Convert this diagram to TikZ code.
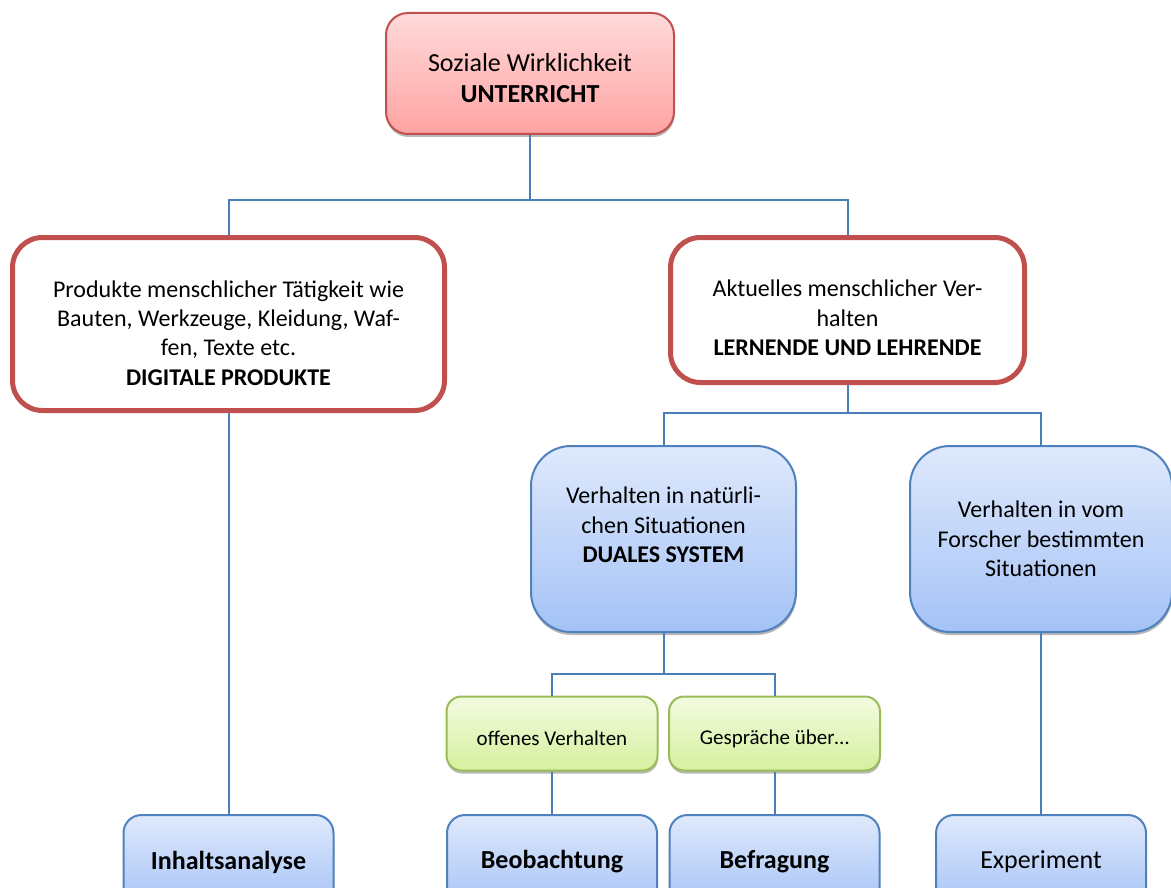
\documentclass[tikz,border=0pt]{standalone}
\usepackage{fontspec}
\setmainfont{Carlito}
\usetikzlibrary{shadows}

\definecolor{linkblue}{HTML}{4A7EBB}
\definecolor{redline}{HTML}{C0504D}
\definecolor{redtop}{HTML}{FFDADA}
\definecolor{redbot}{HTML}{FFA3A3}
\definecolor{blueline}{HTML}{4F81BD}
\definecolor{bluetop}{HTML}{DFE9FC}
\definecolor{bluebot}{HTML}{A4C2F6}
\definecolor{greenline}{HTML}{9BBB59}
\definecolor{greentop}{HTML}{F3FBE0}
\definecolor{greenbot}{HTML}{D5F09E}

\tikzset{
  softshadow/.style={drop shadow={shadow xshift=0.5pt, shadow yshift=-3pt, opacity=0.28, fill=black}},
  link/.style={draw=linkblue, line width=2pt},
  redhead/.style={draw=redline, line width=2pt, top color=redtop, bottom color=redbot,
    rounded corners=22pt, softshadow, inner sep=0pt},
  redframe/.style={draw=redline, line width=5pt, fill=white, rounded corners=30pt, inner sep=0pt},
  bluebox/.style={draw=blueline, line width=2pt, top color=bluetop, bottom color=bluebot,
    rounded corners=#1, softshadow, inner sep=0pt},
  bluebox/.default=40pt,
  greenbox/.style={draw=greenline, line width=2pt, top color=greentop, bottom color=greenbot,
    rounded corners=15pt, softshadow, inner sep=0pt},
  methodbox/.style={bluebox=18pt, minimum width=210pt, minimum height=94pt,
    font=\fontsize{26}{31}\selectfont},
  big/.style={align=center, inner sep=0pt, font=\fontsize{26}{31}\selectfont},
  body/.style={align=center, inner sep=0pt, font=\fontsize{24}{29.3}\selectfont},
  small/.style={align=center, inner sep=0pt, font=\fontsize{21}{25}\selectfont},
}

\begin{document}
\begin{tikzpicture}[x=1pt, y=-1pt]
  \useasboundingbox (0,0) rectangle (1171,888);

  % hierarchy boxes
  \node[redhead, minimum width=288pt, minimum height=121pt] (top) at (530,73.5) {};
  \node[big] (toptext) at ([yshift=-5pt]top.center)
    {Soziale Wirklichkeit\\\textbf{UNTERRICHT}};

  \node[redframe, minimum width=432pt, minimum height=173pt] (prod) at (228.5,324) {};
  \node[body] (prodtext) at ([yshift=-9pt]prod.center)
    {Produkte menschlicher Tätigkeit wie\\Bauten, Werkzeuge, Kleidung, Waf-\\fen, Texte etc.\\\textbf{DIGITALE PRODUKTE}};

  \node[redframe, minimum width=354pt, minimum height=145pt] (verh) at (847.5,310) {};
  \node[body] (verhtext) at ([yshift=-8pt]verh.center)
    {Aktuelles menschlicher Ver-\\halten\\\textbf{LERNENDE UND LEHRENDE}};

  \node[bluebox, minimum width=265pt, minimum height=186pt] (nat) at (663.5,539) {};
  \node[body] (nattext) at ([yshift=14pt]nat.center)
    {Verhalten in natürli-\\chen Situationen\\\textbf{DUALES SYSTEM}};

  \node[bluebox, minimum width=262pt, minimum height=186pt] (forsch) at (1041,539) {};
  \node[body] (forschtext) at (forsch.center)
    {Verhalten in vom\\Forscher bestimmten\\Situationen};

  \node[greenbox, minimum width=211pt, minimum height=74pt] (offen) at (552,733.5) {};
  \node[small] (offentext) at ([yshift=-5pt]offen.center) {offenes Verhalten};

  \node[greenbox, minimum width=211pt, minimum height=74pt] (gespr) at (774.5,733.5) {};
  \node[small] (gesprtext) at ([yshift=-5pt]gespr.center) {Gespräche über…};

  % method boxes along the bottom edge
  \node[methodbox] (inhalt) at (228.5,862) {\textbf{Inhaltsanalyse}};
  \node[methodbox] (beob) at (552,862) {\textbf{Beobachtung}};
  \node[methodbox] (befr) at (774.5,862) {\textbf{Befragung}};
  \node[methodbox] (exp) at (1041,862) {Experiment};

  % junction points of the tree
  \coordinate (j1) at (530,200);
  \coordinate (j2) at (847.5,413);
  \coordinate (j3) at (663.5,674);

  % connectors
  \draw[link] (top.south) -- (j1);
  \draw[link] (prod.north) |- (j1) -| (verh.north);
  \draw[link] (verh.south) -- (j2);
  \draw[link] (nat.north) |- (j2) -| (forsch.north);
  \draw[link] (nat.south) -- (j3);
  \draw[link] (offen.north) |- (j3) -| (gespr.north);
  \draw[link] (prod.south) -- (inhalt.north);
  \draw[link] (forsch.south) -- (exp.north);
  \draw[link] (offen.south) -- (beob.north);
  \draw[link] (gespr.south) -- (befr.north);
\end{tikzpicture}
\end{document}
